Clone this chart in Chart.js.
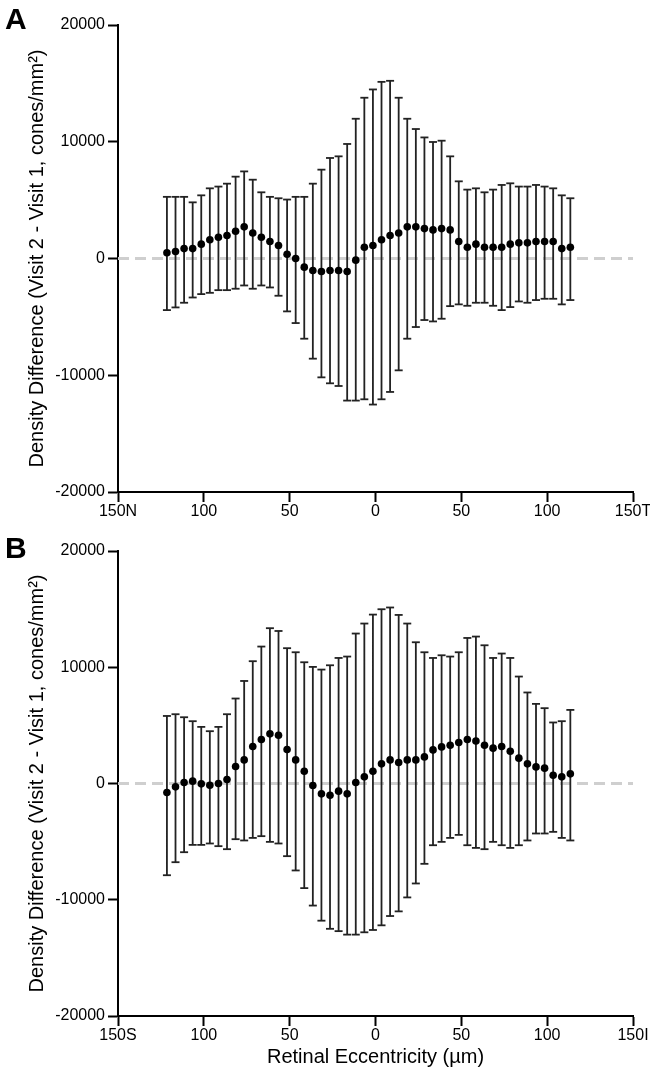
<!DOCTYPE html>
<html><head><meta charset="utf-8">
<script src="https://cdn.jsdelivr.net/npm/chart.js@4.4.0/dist/chart.umd.min.js"></script>
<style>
html,body{margin:0;padding:0;background:#fff;}
#wrap{position:relative;width:650px;height:1077px;overflow:hidden;}
.cv{position:absolute;left:0;}
.lab{position:absolute;left:5px;font:bold 30px "Liberation Sans",Arial,sans-serif;line-height:30px;color:#000;}
</style></head><body>
<div id="wrap">
<div class="cv" style="top:0;width:650px;height:525px"><canvas id="cA"></canvas></div>
<div class="cv" style="top:525px;width:650px;height:552px"><canvas id="cB"></canvas></div>
<div class="lab" style="top:4px">A</div>
<div class="lab" style="top:533px">B</div>
</div>
<script>
// Retinal eccentricity of each sample (µm); negative = nasal/superior side
const eccentricity = [-121.5,-116.5,-111.5,-106.5,-101.5,-96.5,-91.5,-86.5,-81.5,-76.5,-71.5,-66.5,-61.5,-56.5,-51.5,-46.5,-41.5,-36.5,-31.5,-26.5,-21.5,-16.5,-11.5,-6.5,-1.5,3.5,8.5,13.5,18.5,23.5,28.5,33.5,38.5,43.5,48.5,53.5,58.5,63.5,68.5,73.5,78.5,83.5,88.5,93.5,98.5,103.5,108.5,113.5];

// Panel A (horizontal meridian): mean difference and error-bar ends
const meanA = [490,600,850,850,1230,1600,1820,1970,2340,2710,2190,1820,1450,1110,370,0,-740,-1030,-1110,-1030,-1030,-1110,-140,970,1110,1600,1970,2190,2710,2710,2560,2450,2560,2450,1450,970,1230,970,970,970,1230,1340,1340,1450,1450,1450,850,970];
const upperA = [5280,5280,5280,4810,5410,6010,6160,6410,7010,7460,6750,5670,5280,5160,5050,5280,5280,6410,7610,8610,8750,9810,11970,13770,14480,15130,15220,13770,11970,11090,10370,9980,10090,8750,6610,5900,6010,5670,5900,6300,6440,6160,6160,6300,6160,6010,5410,5160];
const lowerA = [-4420,-4190,-3790,-3340,-3050,-2940,-2710,-2710,-2590,-2310,-2590,-2310,-2480,-3190,-4530,-5530,-6870,-8580,-10180,-10690,-10920,-12170,-12170,-12060,-12510,-12060,-11430,-9580,-6870,-5870,-5270,-5390,-5160,-4080,-3930,-4050,-3790,-3790,-4050,-4420,-4160,-3680,-3790,-3560,-3450,-3450,-3930,-3560];

// Panel B (vertical meridian)
const meanB = [-780,-290,90,200,-30,-150,0,340,1460,2030,3180,3780,4270,4150,2920,2030,1060,-170,-890,-1010,-660,-890,90,570,1060,1690,2030,1810,2030,2030,2290,2890,3150,3290,3530,3780,3660,3290,3040,3180,2780,2180,1690,1430,1320,710,570,830];
const upperB = [5810,5960,5700,5360,4870,4500,4870,5960,7310,8820,10520,11780,13360,13120,11640,11290,10430,10030,9800,10170,10800,10920,12900,13760,14530,14990,15140,14500,13760,12150,11290,10800,11030,10920,11290,12520,12640,11890,10800,11180,10800,9200,7830,6850,6480,5250,5360,6330];
const lowerB = [-7890,-6770,-5910,-5280,-5280,-5160,-5390,-5650,-4790,-4900,-4680,-4530,-5020,-5160,-6250,-7480,-9000,-10500,-11800,-12500,-12700,-13000,-13000,-12800,-12600,-12200,-11400,-11000,-9800,-8600,-6910,-5310,-5020,-4680,-4420,-5310,-5540,-5650,-5020,-5310,-5540,-5310,-4900,-4300,-4300,-4160,-4680,-4900];

// Axis ticks
const xTickValues = [-150,-100,-50,0,50,100,150];
const xTickLabelsA = ['150N','100','50','0','50','100','150T'];
const xTickLabelsB = ['150S','100','50','0','50','100','150I'];
const yTickValues = [-20000,-10000,0,10000,20000];
const yTickLabels = ['-20000','-10000','0','10000','20000'];
const yTitle = 'Density Difference (Visit 2 - Visit 1, cones/mm²)';
const xTitle = 'Retinal Eccentricity (µm)';

Chart.defaults.font.family = '"Liberation Sans", Arial, Helvetica, sans-serif';
Chart.defaults.color = '#000';

function makeChart(id, means, lows, highs, xLabels, showXTitle, padTop, xAxisHeight) {
  const barPts = [];
  for (let i = 0; i < eccentricity.length; i++) {
    barPts.push({x: eccentricity[i], y: lows[i]});
    barPts.push({x: eccentricity[i], y: highs[i]});
    barPts.push({x: eccentricity[i], y: null});
  }
  const meanPts = eccentricity.map((x, i) => ({x: x, y: means[i]}));
  const gridOpts = {drawOnChartArea: false, drawTicks: true, tickLength: 10, tickColor: '#000', tickWidth: 2};
  const borderOpts = {display: true, color: '#000', width: 2};
  return new Chart(document.getElementById(id), {
    type: 'scatter',
    data: {datasets: [
      {data: [{x: -150, y: 0}, {x: 150, y: 0}], showLine: true, borderColor: '#cfcfcf', borderWidth: 3, borderDash: [11, 6], pointRadius: 0, order: 3},
      {data: barPts, showLine: true, spanGaps: false, borderColor: '#222', borderWidth: 1.8, pointStyle: 'line', pointRadius: 4, pointBorderColor: '#222', pointBorderWidth: 1.8, pointBackgroundColor: '#222', order: 2},
      {data: meanPts, pointRadius: 3.8, pointBackgroundColor: '#000', pointBorderColor: '#000', pointBorderWidth: 0, order: 1}
    ]},
    options: {
      responsive: true, maintainAspectRatio: false, animation: false,
      layout: {padding: {top: padTop, right: 17, bottom: 0, left: 0}},
      plugins: {legend: {display: false}, tooltip: {enabled: false}},
      scales: {
        x: {
          type: 'linear', min: -150, max: 150,
          afterBuildTicks: s => { s.ticks = xTickValues.map(v => ({value: v})); },
          ticks: {callback: v => xLabels[xTickValues.indexOf(v)], font: {size: 16}, color: '#000', padding: 0, maxRotation: 0, autoSkip: false},
          grid: gridOpts, border: borderOpts,
          title: {display: showXTitle, text: xTitle, font: {size: 20}, color: '#000', padding: {top: 0, bottom: 8}},
          afterFit: s => { s.height = xAxisHeight; s.paddingLeft = 0; s.paddingRight = 0; }
        },
        y: {
          type: 'linear', min: -20000, max: 20000,
          afterBuildTicks: s => { s.ticks = yTickValues.map(v => ({value: v})); },
          ticks: {callback: v => yTickLabels[yTickValues.indexOf(v)], font: {size: 16}, color: '#000', padding: 3},
          grid: gridOpts, border: borderOpts,
          title: {display: true, text: yTitle, font: {size: 20}, color: '#000', padding: {top: 25, bottom: 0}},
          afterFit: s => { s.width = 118; s.paddingTop = 0; s.paddingBottom = 0; }
        }
      }
    }
  });
}

makeChart('cA', meanA, lowerA, upperA, xTickLabelsA, false, 25, 33);
makeChart('cB', meanB, lowerB, upperB, xTickLabelsB, true, 26, 61);
</script>
</body></html>
